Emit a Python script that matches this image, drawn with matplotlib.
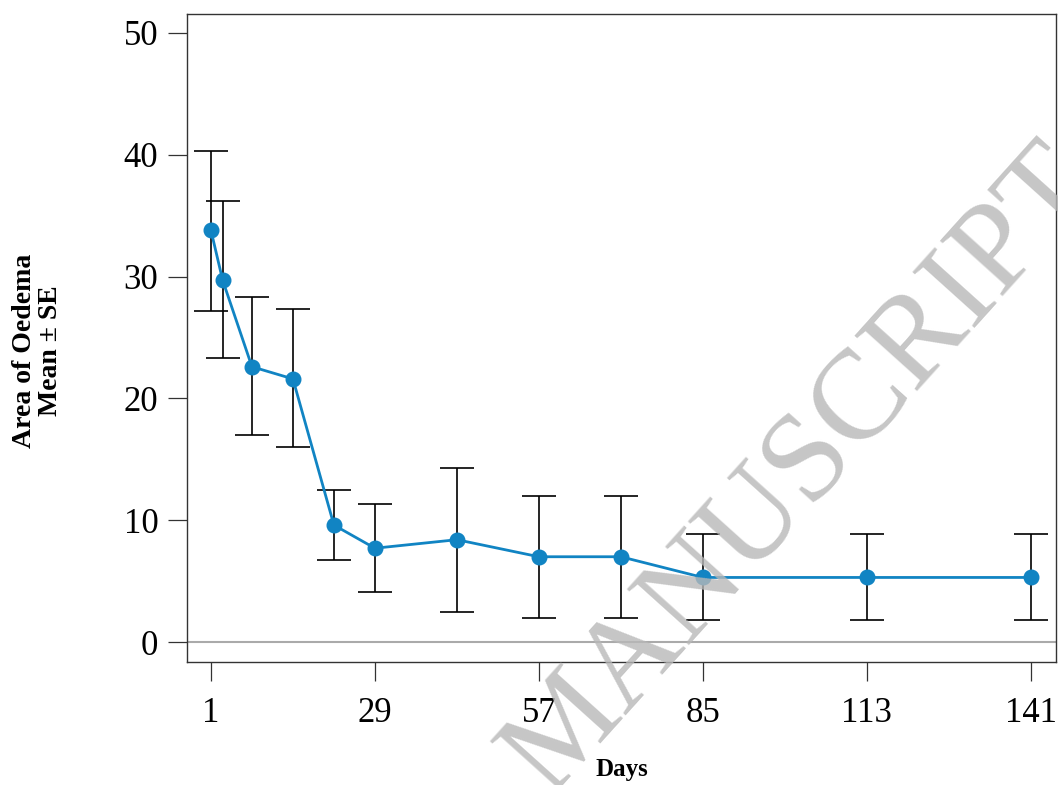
import numpy as np
import matplotlib
matplotlib.use("Agg")
import matplotlib.pyplot as plt

plt.rcParams["font.family"] = ["Liberation Serif", "DejaVu Serif"]

# data
days = [1, 3, 8, 15, 22, 29, 43, 57, 71, 85, 113, 141]
mean = [33.8, 29.7, 22.6, 21.6, 9.6, 7.7, 8.4, 7.0, 7.0, 5.3, 5.3, 5.3]
upper = [40.3, 36.2, 28.3, 27.3, 12.5, 11.3, 14.3, 12.0, 12.0, 8.9, 8.9, 8.9]
lower = [27.2, 23.3, 17.0, 16.0, 6.7, 4.1, 2.5, 2.0, 2.0, 1.8, 1.8, 1.8]
xticks = [1, 29, 57, 85, 113, 141]
yticks = [0, 10, 20, 30, 40, 50]

mean = np.array(mean); upper = np.array(upper); lower = np.array(lower)
yerr = [mean - lower, upper - mean]

fig = plt.figure(figsize=(10.58, 7.85), dpi=100)
ax = fig.add_axes([0.1767, 0.1567, 0.8213, 0.8255])

ax.axhline(0, color="#aaaaaa", lw=1.5, zorder=1)
ax.errorbar(days, mean, yerr=yerr, fmt="none", ecolor="black",
            elinewidth=1.2, capsize=12, capthick=1.2, zorder=2)
ax.plot(days, mean, color="#1184c3", lw=2.0, marker="o",
        markersize=10.5, zorder=3)

ax.set_xlim(-3.1, 145.3)
ax.set_ylim(-1.64, 51.56)
ax.set_xticks(xticks)
ax.set_yticks(yticks)
ax.tick_params(direction="out", length=13.5, width=0.9, color="#333333",
               labelsize=25, pad=7)
ax.tick_params(axis="x", pad=12)
for s in ax.spines.values():
    s.set_color("#333333"); s.set_linewidth(1.0)

ax.set_xlabel("Days", fontsize=18, fontweight="bold", labelpad=20)
fig.text(0.035, 1 - 351 / 785, "Area of Oedema\nMean ± SE", rotation=90,
         ha="center", va="center", fontsize=20, fontweight="bold",
         linespacing=1.05)

# watermark
fig.text(0.757, 0.40, "MANUSCRIPT", rotation=48, ha="center", va="center",
         fontsize=92, color="#b8b8b8", alpha=0.8, zorder=10,
         rotation_mode="anchor")

fig.savefig("out.png", dpi=100, facecolor="white")
